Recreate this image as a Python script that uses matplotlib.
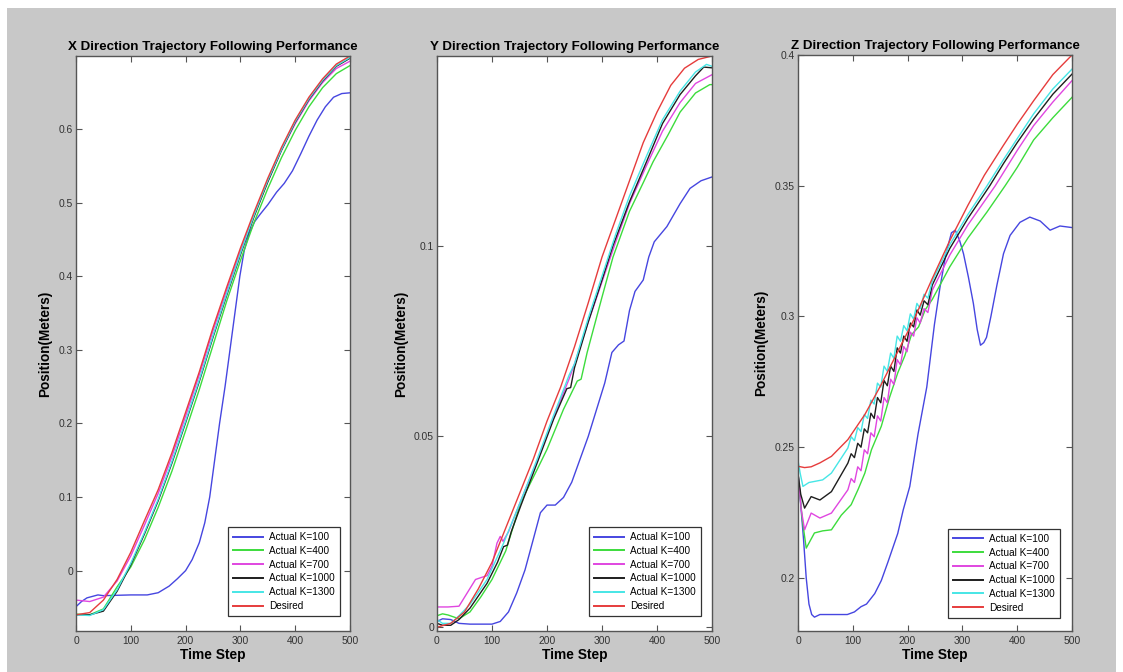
import matplotlib
matplotlib.use("Agg")
import matplotlib.pyplot as plt
from matplotlib.patches import Rectangle
from matplotlib.ticker import FormatStrFormatter, MultipleLocator

plt.rcParams['font.family'] = ['Liberation Sans', 'DejaVu Sans']

# series names and colours
labels = ['Actual K=100', 'Actual K=400', 'Actual K=700', 'Actual K=1000', 'Actual K=1300', 'Desired']
colors = ['#4646e0', '#3cdc3c', '#e046e0', '#1e1e1e', '#46e6e6', '#e63c3c']

# ---------------- X direction ----------------
t25 = [0, 25, 50, 75, 100, 125, 150, 175, 200, 225, 250, 275, 300, 325, 350, 375, 400, 425, 450, 475, 500]
x_des = [-0.060, -0.057, -0.040, -0.012, 0.025, 0.068, 0.110, 0.160, 0.215, 0.270, 0.330,
         0.385, 0.438, 0.487, 0.533, 0.575, 0.612, 0.643, 0.668, 0.688, 0.699]
x_k400 = [-0.059, -0.060, -0.052, -0.022, 0.005, 0.042, 0.086, 0.135, 0.190, 0.246, 0.306,
          0.366, 0.421, 0.473, 0.519, 0.561, 0.598, 0.630, 0.656, 0.675, 0.686]
x_k700 = [-0.040, -0.042, -0.036, -0.014, 0.020, 0.062, 0.105, 0.155, 0.210, 0.266, 0.326,
          0.381, 0.434, 0.484, 0.529, 0.571, 0.607, 0.638, 0.663, 0.682, 0.692]
x_k1000 = [-0.060, -0.060, -0.055, -0.028, 0.008, 0.050, 0.095, 0.146, 0.201, 0.257, 0.317,
           0.374, 0.429, 0.481, 0.528, 0.571, 0.609, 0.640, 0.665, 0.685, 0.696]
x_k1300 = [-0.060, -0.061, -0.053, -0.026, 0.010, 0.052, 0.097, 0.148, 0.203, 0.259, 0.319,
           0.376, 0.431, 0.483, 0.530, 0.572, 0.610, 0.641, 0.666, 0.686, 0.697]
x_k100_t = [0, 10, 20, 30, 40, 50, 100, 130, 150, 170, 185, 200, 212, 225, 235, 244, 253, 262,
            272, 281, 290, 299, 307, 316, 326, 336, 350, 366, 380, 395, 410, 425, 440, 455,
            470, 485, 500]
x_k100 = [-0.049, -0.042, -0.037, -0.035, -0.033, -0.034, -0.033, -0.033, -0.030, -0.021,
          -0.011, 0.000, 0.015, 0.038, 0.065, 0.100, 0.150, 0.200, 0.250, 0.300, 0.350,
          0.400, 0.435, 0.458, 0.474, 0.484, 0.497, 0.514, 0.526, 0.543, 0.566, 0.590,
          0.612, 0.630, 0.643, 0.648, 0.649]

# ---------------- Y direction ----------------
y_des = [0.000, 0.001, 0.004, 0.010, 0.017, 0.026, 0.035, 0.044, 0.054, 0.063, 0.0735,
         0.085, 0.097, 0.107, 0.117, 0.127, 0.135, 0.142, 0.1465, 0.1488, 0.1497]
y_k100_t = [0, 10, 25, 40, 60, 100, 115, 130, 145, 160, 175, 188, 200, 215, 230, 245, 260,
            275, 290, 305, 318, 330, 340, 350, 360, 375, 385, 395, 418, 442, 460, 480, 500]
y_k100 = [0.0015, 0.0022, 0.0020, 0.0010, 0.0008, 0.0008, 0.0015, 0.004, 0.009, 0.015,
          0.023, 0.030, 0.032, 0.032, 0.034, 0.038, 0.044, 0.050, 0.057, 0.064, 0.072,
          0.074, 0.075, 0.083, 0.088, 0.091, 0.097, 0.101, 0.105, 0.111, 0.115, 0.117, 0.118]
y_k400_t = [0, 10, 20, 40, 60, 80, 100, 125, 152, 182, 200, 230, 255, 262, 273, 300, 320,
            350, 375, 393, 420, 442, 470, 496, 500]
y_k400 = [0.003, 0.0035, 0.0032, 0.0022, 0.004, 0.008, 0.0125, 0.020, 0.0326, 0.0413,
          0.0466, 0.0571, 0.0645, 0.0650, 0.0720, 0.0865, 0.0970, 0.1090, 0.1165, 0.1220,
          0.1290, 0.1350, 0.1400, 0.1422, 0.1422]
y_k700_t = [0, 20, 40, 55, 70, 80, 91, 100, 109, 115, 120, 130, 152, 182, 212, 240, 250,
            275, 300, 325, 350, 381, 410, 442, 470, 500]
y_k700 = [0.0053, 0.0053, 0.0055, 0.009, 0.0125, 0.013, 0.0135, 0.016, 0.022, 0.0238,
          0.0225, 0.025, 0.033, 0.0435, 0.055, 0.065, 0.069, 0.080, 0.0905, 0.101, 0.111,
          0.121, 0.130, 0.1375, 0.1425, 0.1448]
y_k1000_t = [0, 10, 25, 40, 60, 91, 110, 121, 128, 135, 152, 182, 212, 236, 243, 250, 275,
             300, 320, 350, 381, 410, 442, 470, 485, 500]
y_k1000 = [0.001, 0.0005, 0.0005, 0.002, 0.005, 0.0115, 0.017, 0.0211, 0.0215, 0.025,
           0.0317, 0.043, 0.0545, 0.0625, 0.0628, 0.068, 0.080, 0.091, 0.100, 0.1115,
           0.122, 0.132, 0.1396, 0.1445, 0.1468, 0.1466]
y_k1300_t = [0, 10, 25, 40, 60, 91, 121, 152, 182, 212, 240, 250, 275, 300, 325, 350, 381,
             410, 442, 470, 490, 500]
y_k1300 = [0.002, 0.001, 0.001, 0.003, 0.006, 0.0125, 0.022, 0.033, 0.044, 0.0555, 0.066,
           0.069, 0.081, 0.092, 0.103, 0.113, 0.1235, 0.133, 0.1405, 0.1455, 0.1475, 0.147]

# ---------------- Z direction ----------------
z_des_t = [0, 12, 24, 40, 61, 91, 122, 152, 182, 212, 245, 277, 310, 340, 375, 400, 430, 465, 500]
z_des = [0.2427, 0.2422, 0.2425, 0.2440, 0.2465, 0.2529, 0.2625, 0.2740, 0.2865, 0.2990,
         0.3145, 0.3290, 0.3425, 0.3540, 0.3655, 0.3735, 0.3825, 0.3925, 0.4000]
z_k100_t = [0, 5, 10, 15, 20, 25, 30, 40, 60, 90, 103, 115, 125, 140, 152, 164, 182, 192,
            204, 219, 235, 249, 259, 270, 280, 287, 295, 302, 311, 320, 327, 333, 339, 344,
            352, 363, 375, 387, 405, 423, 442, 460, 478, 500]
z_k100 = [0.240, 0.228, 0.215, 0.200, 0.190, 0.186, 0.185, 0.186, 0.186, 0.186, 0.187,
          0.189, 0.190, 0.194, 0.199, 0.206, 0.217, 0.226, 0.235, 0.255, 0.273, 0.297,
          0.311, 0.324, 0.332, 0.333, 0.329, 0.324, 0.315, 0.305, 0.295, 0.289, 0.290,
          0.292, 0.300, 0.312, 0.324, 0.331, 0.336, 0.338, 0.3365, 0.333, 0.3346, 0.334]
z_k400_t = [0, 8, 15, 30, 45, 61, 79, 97, 110, 122, 134, 152, 167, 182, 195, 207, 220, 232,
            245, 277, 310, 345, 378, 400, 430, 465, 500]
z_k400 = [0.240, 0.222, 0.2114, 0.2172, 0.2180, 0.2184, 0.2240, 0.2280, 0.2340, 0.2401,
          0.2490, 0.2580, 0.2690, 0.2784, 0.2850, 0.2930, 0.2960, 0.3025, 0.3065, 0.3190,
          0.3300, 0.3400, 0.3500, 0.3570, 0.3675, 0.3760, 0.3838]
z_k700_t = [0, 6, 12, 24, 40, 61, 91, 97, 103, 109, 115, 121, 127, 133, 139, 145, 151, 157,
            163, 169, 175, 181, 187, 193, 199, 205, 211, 217, 223, 230, 237, 245, 277, 310,
            360, 400, 430, 465, 500]
z_k700 = [0.240, 0.226, 0.2184, 0.2248, 0.2229, 0.2248, 0.2337, 0.2380, 0.2365, 0.2425,
          0.2410, 0.2490, 0.2475, 0.2555, 0.2540, 0.2620, 0.2600, 0.2690, 0.2670, 0.2760,
          0.2740, 0.2835, 0.2815, 0.2885, 0.2865, 0.2940, 0.2925, 0.2995, 0.2975, 0.3030,
          0.3015, 0.3100, 0.3235, 0.3350, 0.3500, 0.3635, 0.3730, 0.3820, 0.3902]
z_k1000_t = [0, 5, 12, 24, 40, 61, 91, 97, 103, 109, 115, 121, 127, 133, 139, 145, 151, 157,
             163, 169, 175, 181, 187, 193, 199, 205, 211, 217, 223, 230, 237, 245, 277, 310,
             350, 375, 400, 430, 465, 500]
z_k1000 = [0.240, 0.232, 0.2267, 0.2311, 0.2298, 0.2330, 0.2439, 0.2475, 0.2460, 0.2515,
           0.2500, 0.2570, 0.2555, 0.2630, 0.2610, 0.2690, 0.2670, 0.2755, 0.2735, 0.2810,
           0.2790, 0.2880, 0.2860, 0.2925, 0.2905, 0.2975, 0.2960, 0.3025, 0.3005, 0.3060,
           0.3045, 0.3120, 0.3260, 0.3375, 0.3500, 0.3585, 0.3665, 0.3755, 0.3850, 0.3927]
z_k1300_t = [0, 4, 9, 20, 30, 45, 61, 91, 97, 103, 109, 115, 121, 127, 133, 139, 145, 151,
             157, 163, 169, 175, 181, 187, 193, 199, 205, 211, 217, 223, 230, 237, 245, 277,
             310, 345, 375, 400, 430, 465, 500]
z_k1300 = [0.245, 0.240, 0.235, 0.2365, 0.2369, 0.2375, 0.2401, 0.2497, 0.2540, 0.2525,
           0.2575, 0.2560, 0.2625, 0.2610, 0.2680, 0.2665, 0.2745, 0.2730, 0.2810, 0.2790,
           0.2860, 0.2840, 0.2925, 0.2905, 0.2965, 0.2945, 0.3010, 0.2990, 0.3050, 0.3030,
           0.3085, 0.3070, 0.3135, 0.3275, 0.3390, 0.3500, 0.3600, 0.3680, 0.3775, 0.3870,
           0.3946]

panels = [
    {
        'title': 'X Direction Trajectory Following Performance',
        'series': [(x_k100_t, x_k100), (t25, x_k400), (t25, x_k700), (t25, x_k1000),
                   (t25, x_k1300), (t25, x_des)],
        'ylim': (-0.082, 0.699), 'ystep': 0.1,
        'rect': [76, 56, 274, 575], 'ylab_x': -0.088, 'leg': (0.9635, 0.026),
    },
    {
        'title': 'Y Direction Trajectory Following Performance',
        'series': [(y_k100_t, y_k100), (y_k400_t, y_k400), (y_k700_t, y_k700),
                   (y_k1000_t, y_k1000), (y_k1300_t, y_k1300), (t25, y_des)],
        'ylim': (-0.001, 0.1497), 'ystep': 0.05,
        'rect': [437, 56, 275, 575], 'ylab_x': -0.105, 'leg': (0.96, 0.026),
    },
    {
        'title': 'Z Direction Trajectory Following Performance',
        'series': [(z_k100_t, z_k100), (z_k400_t, z_k400), (z_k700_t, z_k700),
                   (z_k1000_t, z_k1000), (z_k1300_t, z_k1300), (z_des_t, z_des)],
        'ylim': (0.1797, 0.4), 'ystep': 0.05,
        'rect': [798, 55, 274, 576], 'ylab_x': -0.1095, 'leg': (0.956, 0.023),
    },
]

W, H = 1123, 672
fig = plt.figure(figsize=(W / 100, H / 100), dpi=100, facecolor='white')

# grey figure area, with a thin white margin on the top and left
fig.patches.append(Rectangle((7 / W, 0), 1 - 14 / W, 1 - 8 / H, transform=fig.transFigure,
                             facecolor='#c8c8c8', edgecolor='none', zorder=-10))

for p in panels:
    left, top, w, h = p['rect']
    ax = fig.add_axes([left / W, 1 - (top + h) / H, w / W, h / H])
    ax.set_facecolor('white')

    # draw K=100 .. K=1300 first, then desired on top
    for (tt, vv), lab, col in zip(p['series'], labels, colors):
        ax.plot(tt, vv, color=col, lw=1.0, label=lab)

    ax.set_xlim(0, 500)
    ax.set_ylim(*p['ylim'])
    ax.xaxis.set_major_locator(MultipleLocator(100))
    ax.yaxis.set_major_locator(MultipleLocator(p['ystep']))
    ax.yaxis.set_major_formatter(FormatStrFormatter('%g'))

    ax.tick_params(direction='in', top=True, right=True, length=4, width=0.8,
                   labelsize=7.4, labelcolor='#333333', color='#555555')
    ax.tick_params(axis='x', pad=3.5)
    ax.tick_params(axis='y', pad=2.2)
    for s in ax.spines.values():
        s.set_color('#555555')
        s.set_linewidth(1.0)

    ax.set_title(p['title'], fontsize=9.6, fontweight='bold', pad=4)
    ax.set_xlabel('Time Step', fontsize=9.9, fontweight='bold')
    ax.set_ylabel('Position(Meters)', fontsize=9.8, fontweight='bold')
    ax.xaxis.set_label_coords(0.5, -0.0296)
    ax.xaxis.label.set_va('top')
    ax.yaxis.set_label_coords(p['ylab_x'], 0.5)

    leg = ax.legend(loc='lower right', bbox_to_anchor=p['leg'], borderaxespad=0,
                    fontsize=7.2, fancybox=False, framealpha=1, edgecolor='#333333',
                    handlelength=3.0, labelspacing=0.38, borderpad=0.5, handletextpad=0.6)
    leg.get_frame().set_linewidth(0.9)
    for line in leg.get_lines():
        line.set_linewidth(1.4)

fig.savefig('out.png', dpi=100, facecolor=fig.get_facecolor())
